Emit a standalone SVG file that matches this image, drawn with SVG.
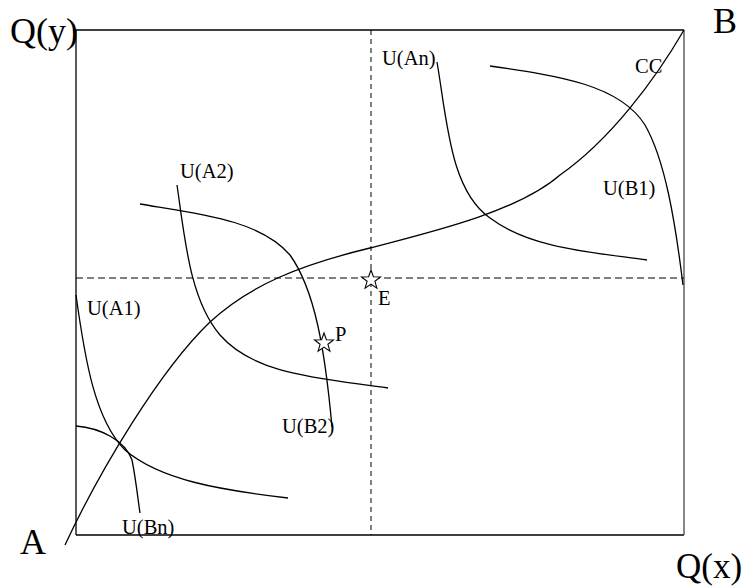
<svg xmlns="http://www.w3.org/2000/svg" width="746" height="586" viewBox="0 0 746 586">
<style>
.c{fill:none;stroke:#000;stroke-width:1.3}
.d{fill:none;stroke:#000;stroke-width:1;stroke-dasharray:7,4}
.s{fill:#fff;stroke:#000;stroke-width:1.1}
.big{font-family:"Liberation Serif",serif;font-size:36px}
.sm{font-family:"Liberation Serif",serif;font-size:20.5px}
</style>
<defs>
<polygon id="star" points="0,-10 2.4,-3.3 9.5,-3.1 3.9,1.3 5.9,8.1 0,4.1 -5.9,8.1 -3.9,1.3 -9.5,-3.1 -2.4,-3.3"/>
</defs>
<g id="frame">
<line x1="76" y1="30" x2="684" y2="30" stroke="#000" stroke-width="1.3"/>
<line x1="76" y1="30" x2="76" y2="535" stroke="#000" stroke-width="1.3"/>
<line x1="76" y1="535" x2="684" y2="535" stroke="#000" stroke-width="1.3"/>
<line x1="684" y1="30" x2="684" y2="535" stroke="#555" stroke-width="1.4"/>
<line class="d" x1="76" y1="278" x2="684" y2="278"/>
<line class="d" x1="371" y1="30" x2="371" y2="535" style="stroke-dasharray:5,4"/>
</g>
<g id="connectors">
<path id="CC" class="c" d="M65,545 C100,470 160,370 210,322 C250,285 300,265 370,248 C440,230 520,210 560,175 C610,140 655,80 684,30"/>
<path id="UAn" class="c" d="M437,62 C447,120 450,190 490,218 C530,248 590,252 647,260"/>
<path id="UB1" class="c" d="M490,66 C560,76 620,85 645,125 C665,160 675,220 683,285"/>
<path id="UA2" class="c" d="M177,185 C185,240 190,300 220,335 C255,375 320,378 388,388"/>
<path id="UB2" class="c" d="M140,204 C200,214 260,220 290,255 C315,290 325,350 332,427"/>
<path id="UA1" class="c" d="M76,295 C85,360 95,420 125,450 C160,480 220,490 288,498"/>
<path id="UBn" class="c" d="M76,426 C100,428 125,440 132,460 C136,480 138,500 140,513"/>
</g>
<g id="E"><use href="#star" class="s" x="371" y="280"/><text class="sm" x="378" y="305">E</text></g>
<g id="P"><use href="#star" class="s" x="324" y="343"/><text class="sm" x="335" y="341">P</text></g>
<g id="labels">
<text class="big" x="10" y="43">Q(y)</text>
<text class="big" x="713" y="33">B</text>
<text class="big" x="20" y="554">A</text>
<text class="big" x="676" y="578" style="font-size:35px">Q(x)</text>
<text class="sm" x="382" y="65">U(An)</text>
<text class="sm" x="635" y="73">CC</text>
<text class="sm" x="603" y="195">U(B1)</text>
<text class="sm" x="180" y="178">U(A2)</text>
<text class="sm" x="87" y="315">U(A1)</text>
<text class="sm" x="282" y="433">U(B2)</text>
<text class="sm" x="122" y="534">U(Bn)</text>
</g>
</svg>
